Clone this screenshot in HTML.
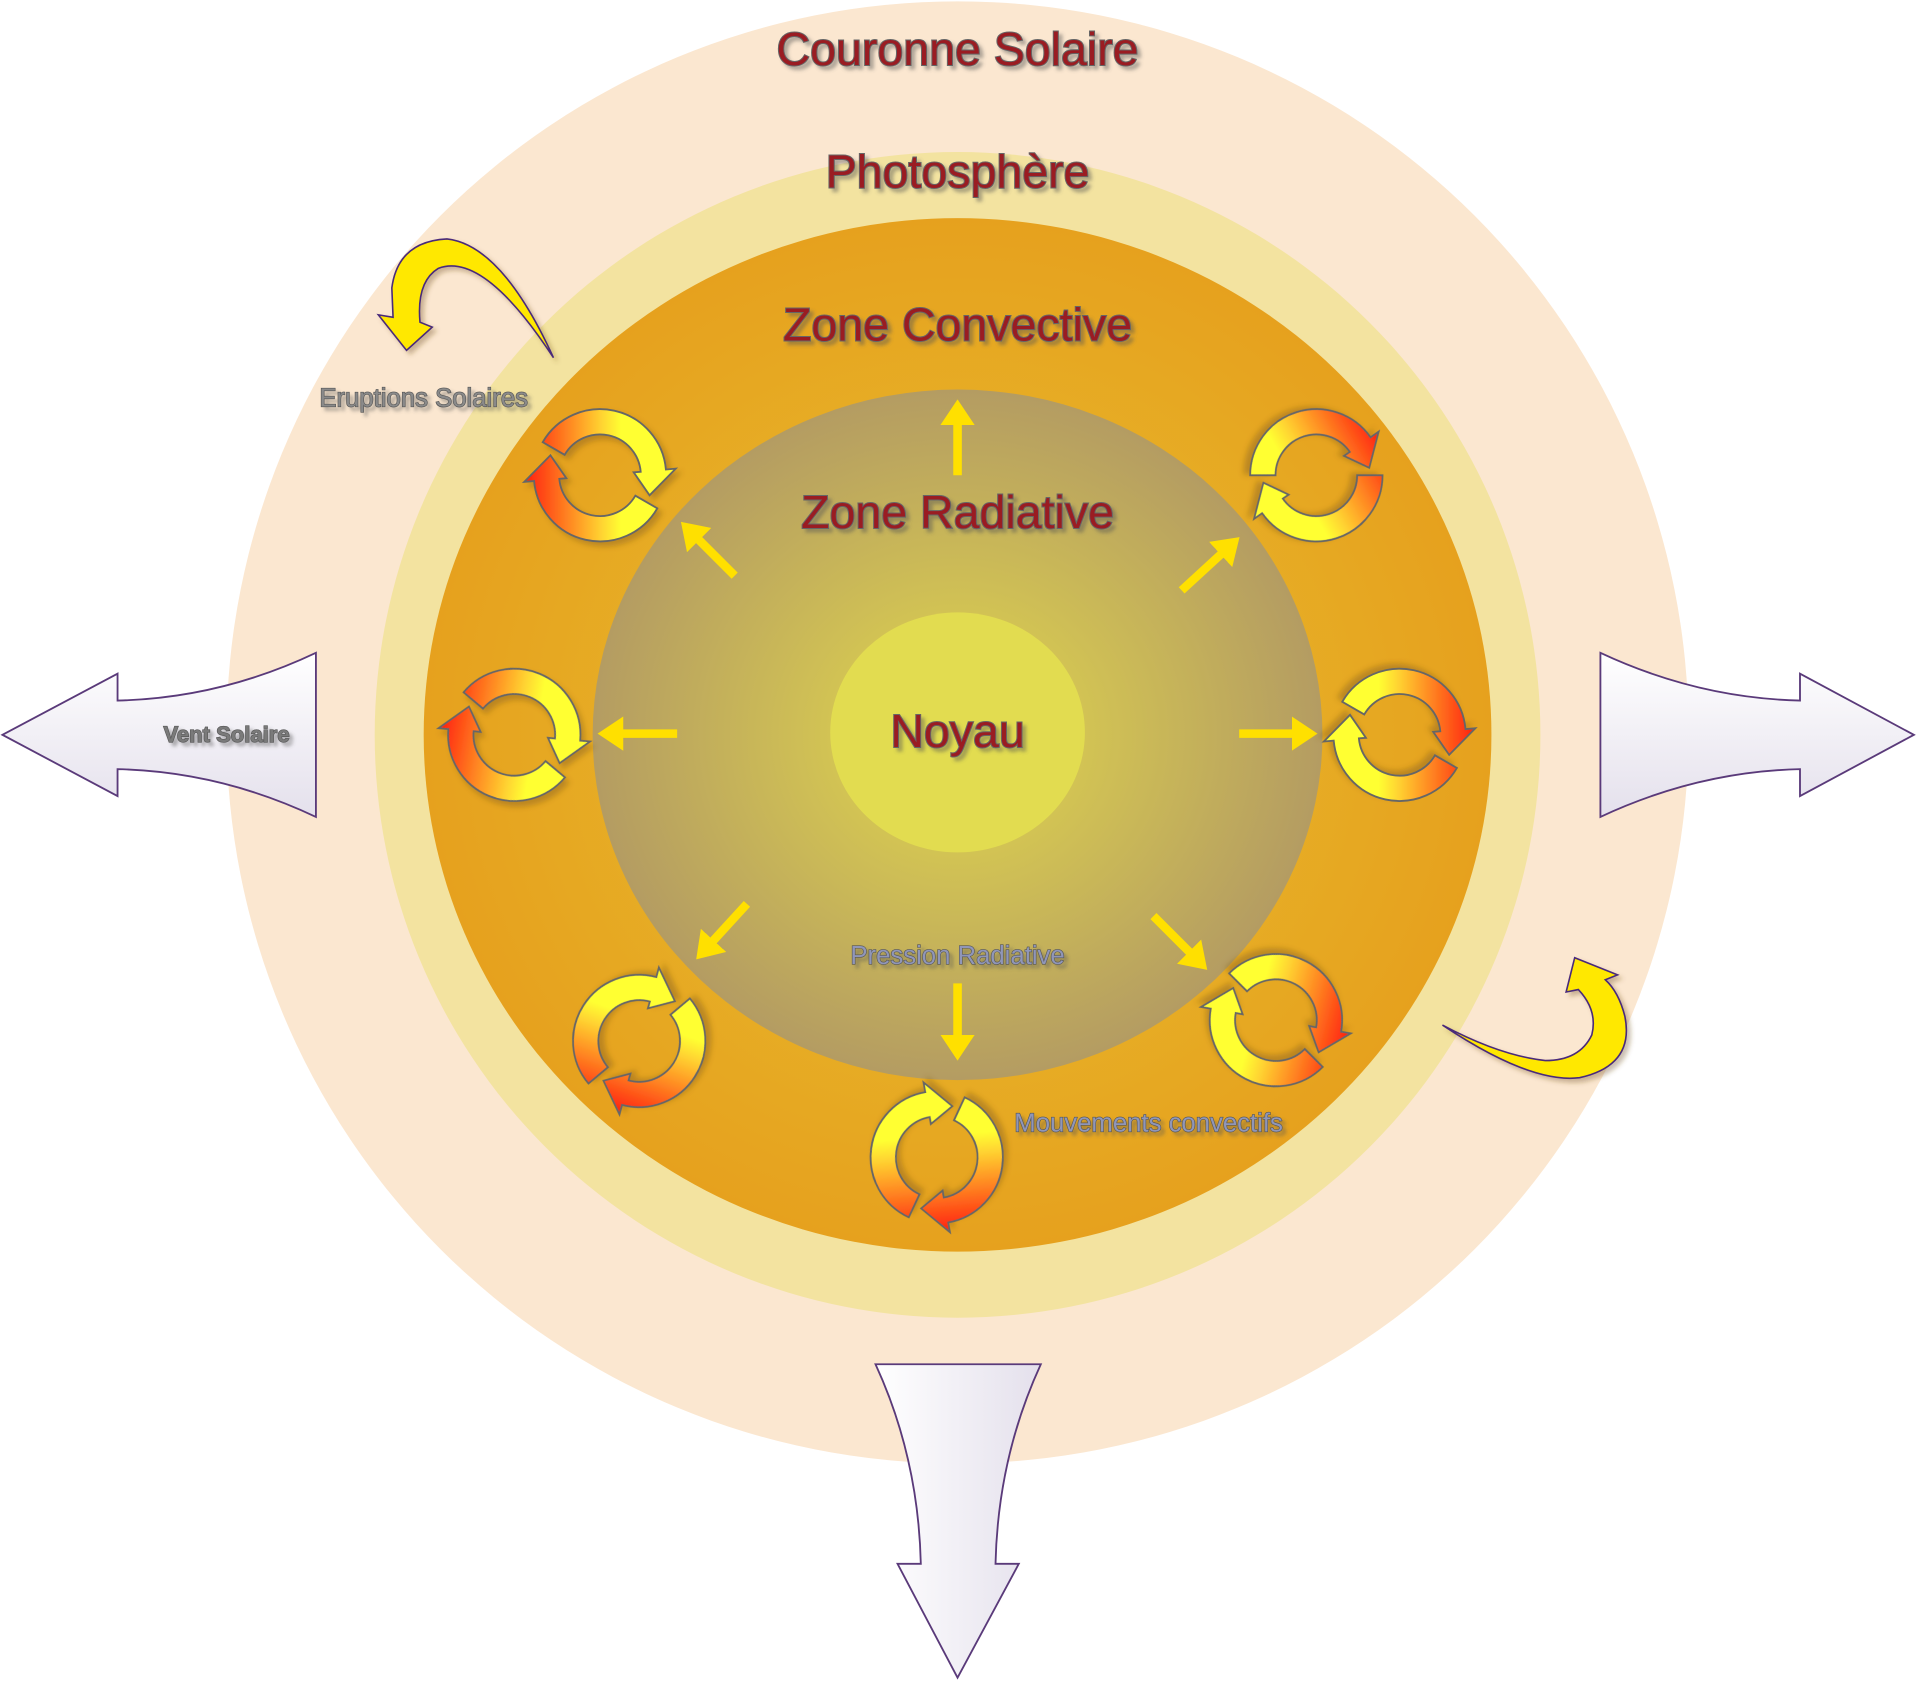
<!DOCTYPE html>
<html><head><meta charset="utf-8"><style>
html,body{margin:0;padding:0;background:#fff;}
svg{display:block;}
text{font-family:"Liberation Sans",sans-serif;}
</style></head><body>
<svg width="1920" height="1684" viewBox="0 0 1568 1375" xmlns="http://www.w3.org/2000/svg">
<defs>
<radialGradient id="conv" cx="50%" cy="50%" r="50%">
<stop offset="0" stop-color="#e8c030"/><stop offset="1" stop-color="#e6a11e"/></radialGradient>
<radialGradient id="rad" cx="50%" cy="50%" r="50%">
<stop offset="0" stop-color="#e2d84c"/><stop offset="1" stop-color="#b49c62"/></radialGradient>
<linearGradient id="cg" gradientUnits="userSpaceOnUse" x1="-50" y1="0" x2="50" y2="0">
<stop offset="0" stop-color="#ff2a10"/><stop offset="0.5" stop-color="#ffd030"/><stop offset="0.65" stop-color="#ffff30"/><stop offset="1" stop-color="#ffff30"/></linearGradient>
<linearGradient id="wh" x1="0" y1="0" x2="0" y2="1">
<stop offset="0" stop-color="#ffffff"/><stop offset="1" stop-color="#e4e0ec"/></linearGradient>
<linearGradient id="whh" x1="0" y1="0" x2="1" y2="0">
<stop offset="0" stop-color="#ffffff"/><stop offset="1" stop-color="#e4e0ec"/></linearGradient>
<marker id="ah" markerWidth="4" markerHeight="4" refX="1" refY="2" orient="auto" markerUnits="strokeWidth">
<path d="M0,0 L3,2 L0,4 Z" fill="#ffe000"/></marker>
<filter id="sh" x="-10%" y="-30%" width="130%" height="170%"><feDropShadow dx="3" dy="3" stdDeviation="1.5" flood-color="#555" flood-opacity="0.45"/></filter>
<filter id="ish" x="-20%" y="-20%" width="150%" height="150%"><feDropShadow dx="3" dy="3" stdDeviation="2" flood-color="#6a4a20" flood-opacity="0.35"/></filter>
<g id="cyc" filter="url(#ish)">
<path d="M-40.7,-23.5 A47,47 0 0 1 46.8,-4.1 L53.8,-4.7 L35.2,14.2 L23.9,-2.1 L28.9,-2.5 A29,29 0 0 0 -25.1,-14.5 Z" fill="url(#cg)" stroke="#666" stroke-width="1.3" stroke-linejoin="miter"/>
<path d="M40.7,23.5 A47,47 0 0 1 -46.8,4.1 L-53.8,4.7 L-35.2,-14.2 L-23.9,2.1 L-28.9,2.5 A29,29 0 0 0 25.1,14.5 Z" fill="url(#cg)" stroke="#666" stroke-width="1.3" stroke-linejoin="miter"/>
</g>
</defs>

<circle cx="782" cy="598" r="597" fill="#fbe7d0"/>
<circle cx="782" cy="600" r="476" fill="#f3e3a0"/>
<ellipse cx="782" cy="600" rx="436" ry="422" fill="url(#conv)"/>
<ellipse cx="782" cy="600" rx="298" ry="282" fill="url(#rad)"/>
<ellipse cx="782" cy="598" rx="104" ry="98" fill="#e2dc50"/>

<g stroke="#ffe000" stroke-width="7" marker-end="url(#ah)">
<line x1="782" y1="388" x2="782" y2="340"/>
<line x1="553" y1="599" x2="502" y2="599"/>
<line x1="1012" y1="599" x2="1062" y2="599"/>
<line x1="782" y1="803" x2="782" y2="852"/>
<line x1="600" y1="470" x2="566" y2="436"/>
<line x1="965" y1="482" x2="1002" y2="448"/>
<line x1="610" y1="738" x2="578" y2="773"/>
<line x1="942" y1="748" x2="976" y2="782"/>
</g>

<use href="#cyc" transform="translate(490,388) scale(1.15)"/>
<use href="#cyc" transform="translate(420,600) rotate(10) scale(1.15)"/>
<use href="#cyc" transform="translate(1075,388) rotate(150) scale(1.15)"/>
<use href="#cyc" transform="translate(1143,600) rotate(180) scale(1.15)"/>
<use href="#cyc" transform="translate(522,850) rotate(-70) scale(1.15)"/>
<use href="#cyc" transform="translate(765,945) rotate(-95) scale(1.15)"/>
<use href="#cyc" transform="translate(1042,833) rotate(195) scale(1.15)"/>

<path d="M2,600 L96,550 L96,572 Q180,570 258,533 L258,667 Q180,630 96,628 L96,650 Z" fill="url(#wh)" stroke="#5a3a7a" stroke-width="1.5"/>
<path d="M1563,600 L1470,550 L1470,572 Q1386,570 1307,533 L1307,667 Q1386,630 1470,628 L1470,650 Z" fill="url(#wh)" stroke="#5a3a7a" stroke-width="1.5"/>
<path d="M782,1370 L733,1277 L752,1277 Q750,1190 715,1114 L850,1114 Q815,1190 813,1277 L832,1277 Z" fill="url(#whh)" stroke="#5a3a7a" stroke-width="1.5"/>

<path d="M452,292 Q410,200 365,195 Q325,197 320,235 L321,259 L309,257 L332,286 L353,267 L343,263 Q340,230 358,219 Q395,205 452,292 Z" fill="#ffe800" stroke="#4a2a7a" stroke-width="1.3" filter="url(#ish)"/>
<path d="M1178,837 Q1250,885 1290,880 Q1335,870 1327,830 Q1322,810 1311,800 L1321,796 L1286,782 L1279,810 L1289,808 Q1305,825 1300,845 Q1290,866 1262,866 Q1225,862 1178,837 Z" fill="#ffe800" stroke="#4a2a7a" stroke-width="1.3" filter="url(#ish)"/>

<g fill="#9a1a24" stroke="#666" stroke-width="1.6" paint-order="stroke" font-size="38" text-anchor="middle" filter="url(#sh)">
<text x="782" y="53">Couronne Solaire</text>
<text x="782" y="153">Photosphère</text>
<text x="782" y="278">Zone Convective</text>
<text x="782" y="431">Zone Radiative</text>
<text x="782" y="610" font-size="38">Noyau</text>
</g>
<g font-size="21" text-anchor="middle" stroke="#555" stroke-width="1" paint-order="stroke" filter="url(#sh)">
<text x="346" y="332" fill="#8a8a8a">Eruptions Solaires</text>
<text x="185" y="606" fill="#7a7a7a" font-size="18" font-weight="bold">Vent Solaire</text>
<text x="782" y="787" fill="#9096b8">Pression Radiative</text>
<text x="938" y="924" fill="#9096b8">Mouvements convectifs</text>
</g>
</svg>
</body></html>
